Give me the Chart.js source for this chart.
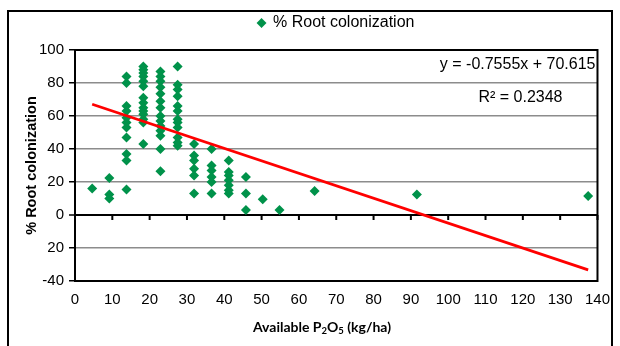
<!DOCTYPE html>
<html>
<head>
<meta charset="utf-8">
<script src="https://cdn.jsdelivr.net/npm/chart.js@4/dist/chart.umd.min.js"></script>
<style>
  html, body { margin: 0; padding: 0; background: #fff; }
  #wrap { position: relative; width: 620px; height: 346px; }
</style>
</head>
<body>
<div id="wrap"><canvas id="rootChart"></canvas></div>
<script>
// Available P2O5 (kg/ha) for each sample
const phosphorus = [
  4.6,
  9.2, 9.2, 9.2,
  13.8, 13.8, 13.8, 13.8, 13.8, 13.8, 13.8, 13.8, 13.8, 13.8, 13.8,
  18.3, 18.3, 18.3, 18.3, 18.3, 18.3, 18.3, 18.3, 18.3, 18.3, 18.3, 18.3, 18.3, 18.3,
  22.9, 22.9, 22.9, 22.9, 22.9, 22.9, 22.9, 22.9, 22.9, 22.9, 22.9, 22.9, 22.9, 22.9,
  27.5, 27.5, 27.5, 27.5, 27.5, 27.5, 27.5, 27.5, 27.5, 27.5, 27.5, 27.5,
  31.9, 31.9, 31.9, 31.9, 31.9, 31.9,
  36.6, 36.6, 36.6, 36.6, 36.6, 36.6,
  41.2, 41.2, 41.2, 41.2, 41.2, 41.2, 41.2,
  45.8, 45.8, 45.8,
  50.3, 54.8, 64.2, 91.6, 137.5
];
// % root colonization for each sample
const colonization = [
  16,
  22.5, 12.5, 10,
  84, 80, 66, 63, 59, 56, 53, 47, 37, 33, 15.5,
  90, 88, 86, 84, 81, 78, 71, 68, 65, 63, 61, 58, 56, 43,
  87, 84, 81, 77.5, 73.5, 69, 65, 60, 57, 54, 51, 48, 40, 26.5,
  90, 79, 76, 72, 66, 63, 58, 56, 53, 47, 44, 42,
  43, 36, 33, 28, 24, 13,
  40, 30, 27, 23, 20, 13,
  33, 26, 24, 21, 18, 15, 13,
  23, 13, 3,
  9.5, 3, 14.5, 12.5, 11.5
];
// tick labels as printed on the y axis
const yTickValues = [-40, -20, 0, 20, 40, 60, 80, 100];
const yTickLabels = ['-40', '20', '0', '20', '40', '60', '80', '100'];

// linear trendline reported on the chart
const slope = -0.7555;
const intercept = 70.615;
const rSquared = 0.2348;

const points = phosphorus.map((x, i) => ({ x: x, y: colonization[i] }));
const xMin = Math.min(...phosphorus);
const xMax = Math.max(...phosphorus);
const trend = [xMin, xMax].map(x => ({ x: x, y: slope * x + intercept }));

const FONT = "'Liberation Sans', Arial, sans-serif";
const TITLE_FONT = "Lato, 'Liberation Sans', sans-serif";

// add some space under the legend
const legendGap = {
  id: 'legendGap',
  beforeInit(chart) {
    const fit = chart.legend.fit;
    chart.legend.fit = function () {
      fit.bind(chart.legend)();
      this.height += 9;
    };
  }
};

// outer frame, plot frame, zero-line ticks, x title and the equation text
const decorations = {
  id: 'decorations',
  beforeDraw(chart) {
    const ctx = chart.ctx;
    ctx.save();
    ctx.fillStyle = '#fff';
    ctx.fillRect(0, 0, chart.width, chart.height);
    ctx.strokeStyle = '#000';
    ctx.lineWidth = 2;
    ctx.strokeRect(8, 11, chart.width - 16, chart.height + 20);
    ctx.restore();
  },
  afterDraw(chart) {
    const ctx = chart.ctx;
    const area = chart.chartArea;
    const xs = chart.scales.x;
    const y0 = chart.scales.y.getPixelForValue(0);
    ctx.save();
    ctx.strokeStyle = '#000';
    ctx.lineWidth = 2;
    ctx.strokeRect(area.left, area.top, area.right - area.left, area.bottom - area.top);
    ctx.beginPath();
    xs.ticks.forEach(t => {
      const px = xs.getPixelForValue(t.value);
      ctx.moveTo(px, y0);
      ctx.lineTo(px, y0 + 5);
    });
    ctx.stroke();

    ctx.fillStyle = '#000';
    ctx.font = '16px ' + FONT;
    ctx.textAlign = 'right';
    ctx.textBaseline = 'middle';
    ctx.fillText('y = ' + slope + 'x + ' + intercept, area.right - 2, area.top + 15);
    ctx.fillText('R\u00b2 = ' + rSquared, area.right - 35, area.top + 48);

    // x axis title with subscripts
    const parts = [
      ['Available P', false], ['2', true], ['O', false], ['5', true], [' (kg/ha)', false]
    ];
    const big = 'bold 14px ' + TITLE_FONT;
    const small = 'bold 9.5px ' + TITLE_FONT;
    let total = 0;
    parts.forEach(p => { ctx.font = p[1] ? small : big; total += ctx.measureText(p[0]).width; });
    let x = chart.width / 2 + 12 - total / 2;
    const y = xs.bottom - 19;
    ctx.textAlign = 'left';
    ctx.textBaseline = 'middle';
    parts.forEach(p => {
      ctx.font = p[1] ? small : big;
      ctx.fillText(p[0], x, p[1] ? y + 4 : y);
      x += ctx.measureText(p[0]).width;
    });
    ctx.restore();
  }
};

new Chart(document.getElementById('rootChart'), {
  type: 'scatter',
  data: {
    datasets: [
      {
        type: 'line',
        label: 'Linear trend',
        data: trend,
        borderColor: '#ff0000',
        borderWidth: 2.8,
        pointRadius: 0,
        fill: false,
        order: 0
      },
      {
        label: '% Root colonization',
        data: points,
        pointStyle: 'rectRot',
        pointRadius: 5,
        backgroundColor: '#00924a',
        borderColor: '#00924a',
        borderWidth: 0,
        order: 1
      }
    ]
  },
  options: {
    responsive: true,
    maintainAspectRatio: false,
    animation: false,
    layout: { padding: { top: 7, left: 8, right: 20, bottom: 0 } },
    plugins: {
      tooltip: { enabled: false },
      legend: {
        position: 'top',
        fullSize: false,
        labels: {
          filter: item => item.text === '% Root colonization',
          usePointStyle: true,
          pointStyle: 'rectRot',
          boxWidth: 7,
          boxHeight: 7,
          padding: 8,
          color: '#000',
          font: { family: FONT, size: 16 }
        }
      }
    },
    scales: {
      x: {
        type: 'linear',
        min: 0,
        max: 140,
        afterFit(scale) { scale.height = 65; },
        ticks: {
          stepSize: 10,
          padding: 10,
          color: '#000',
          font: { family: FONT, size: 15 }
        },
        grid: { display: false, drawTicks: false },
        border: { display: true, color: '#000', width: 2 }
      },
      y: {
        min: -40,
        max: 100,
        afterFit(scale) { scale.width = 67; },
        afterBuildTicks(scale) {
          scale.ticks = yTickValues.map(v => ({ value: v }));
        },
        ticks: {
          padding: 5,
          color: '#000',
          font: { family: FONT, size: 15 },
          callback: value => yTickLabels[yTickValues.indexOf(value)]
        },
        grid: {
          color: c => (c.tick && c.tick.value === 0 ? '#000' : '#8c8c8c'),
          lineWidth: c => (c.tick && c.tick.value === 0 ? 2 : 1.5),
          tickLength: 6,
          tickColor: '#000',
          tickWidth: 1.5
        },
        border: { display: true, color: '#000', width: 2 },
        title: {
          display: true,
          text: '% Root colonization',
          color: '#000',
          font: { family: FONT, size: 14.5, weight: 'bold' },
          padding: { top: 15, bottom: 0 }
        }
      }
    }
  },
  plugins: [legendGap, decorations]
});
</script>
</body>
</html>
